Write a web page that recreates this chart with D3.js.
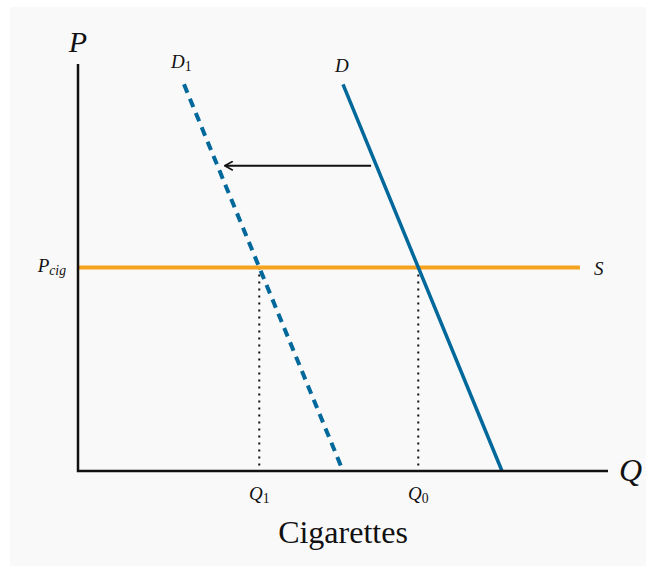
<!DOCTYPE html>
<html><head><meta charset="utf-8">
<script src="https://cdn.jsdelivr.net/npm/d3@7"></script>
<style>
html,body{margin:0;padding:0;background:#ffffff;}
svg{display:block;}
</style></head>
<body>
<script>
// Data (in chart units: quantity 0-100, price 0-100)
const demandD = [[50, 95], [80, 0]];
const demandD1 = [[20, 95], [50, 0]];
const supplyS = [[0, 50], [94.7, 50]];
const shiftArrow = [[55.3, 75], [27.7, 75]];
const equilibria = [{name: "Q", sub: "0", q: 64.2, p: 50}, {name: "Q", sub: "1", q: 34.2, p: 50}];
const priceLabel = {name: "P", sub: "cig", p: 50};

const FONT = "'Liberation Serif', serif";
const W = 656, H = 573;
const svg = d3.select("body").append("svg").attr("width", W).attr("height", H);
svg.append("rect").attr("x", 10).attr("y", 7).attr("width", W - 20).attr("height", H - 14).attr("fill", "#f9f9f9");

const x = d3.scaleLinear().domain([0, 100]).range([78, 608]);
const y = d3.scaleLinear().domain([0, 100]).range([471, 64]);
const line = d3.line().x(d => x(d[0])).y(d => y(d[1]));

const defs = svg.append("defs");
defs.append("marker").attr("id", "arr").attr("viewBox", "0 0 10 10").attr("refX", 9).attr("refY", 5)
  .attr("markerWidth", 10).attr("markerHeight", 10).attr("markerUnits", "userSpaceOnUse").attr("orient", "auto")
  .append("path").attr("d", "M1,0.5 L9,5 L1,9.5").attr("fill", "none").attr("stroke", "#111").attr("stroke-width", 1.6);

// dotted verticals
equilibria.forEach(e => {
  svg.append("line").attr("x1", x(e.q)).attr("x2", x(e.q)).attr("y1", y(e.p)).attr("y2", y(0))
    .attr("stroke", "#111").attr("stroke-width", 2).attr("stroke-dasharray", "2,5");
});

// supply
svg.append("path").attr("d", line(supplyS)).attr("stroke", "#f5a31f").attr("stroke-width", 4).attr("fill", "none");
// demand curves
svg.append("path").attr("d", line(demandD)).attr("stroke", "#00689a").attr("stroke-width", 3.5).attr("fill", "none");
svg.append("path").attr("d", line(demandD1)).attr("stroke", "#00689a").attr("stroke-width", 4).attr("fill", "none")
  .attr("stroke-dasharray", "9,6.5");
// arrow
svg.append("path").attr("d", line(shiftArrow)).attr("stroke", "#111").attr("stroke-width", 1.8).attr("fill", "none")
  .attr("marker-end", "url(#arr)");

// axes
svg.append("path").attr("d", `M${x(0)},${y(100)} L${x(0)},${y(0)} L${x(100)},${y(0)}`)
  .attr("stroke", "#111").attr("stroke-width", 2.5).attr("fill", "none");

function subLabel(px, py, name, sub, size, anchor) {
  const t = svg.append("text").attr("x", px).attr("y", py).attr("text-anchor", anchor || "middle")
    .style("font-family", FONT).style("font-size", size + "px").style("font-style", "italic")
    .attr("fill", "#111");
  t.append("tspan").text(name);
  if (sub) t.append("tspan").style("font-size", (size * 0.72) + "px").attr("dy", size * 0.17)
    .style("font-style", /^\d+$/.test(sub) ? "normal" : "italic").text(sub);
  return t;
}

subLabel(x(0), 52, "P", null, 30);
subLabel(619, 481, "Q", null, 32, "start");
subLabel(594, 275, "S", null, 19, "start");
subLabel(66, 272, priceLabel.name, priceLabel.sub, 19, "end");
subLabel(171, 68, "D", "1", 19, "start");
subLabel(335, 72, "D", null, 19, "start");
equilibria.forEach(e => subLabel(x(e.q), 500, e.name, e.sub, 19));

svg.append("text").attr("x", 343).attr("y", 543).attr("text-anchor", "middle")
  .style("font-family", FONT).style("font-size", "32px").attr("fill", "#111").text("Cigarettes");
</script>
</body></html>
